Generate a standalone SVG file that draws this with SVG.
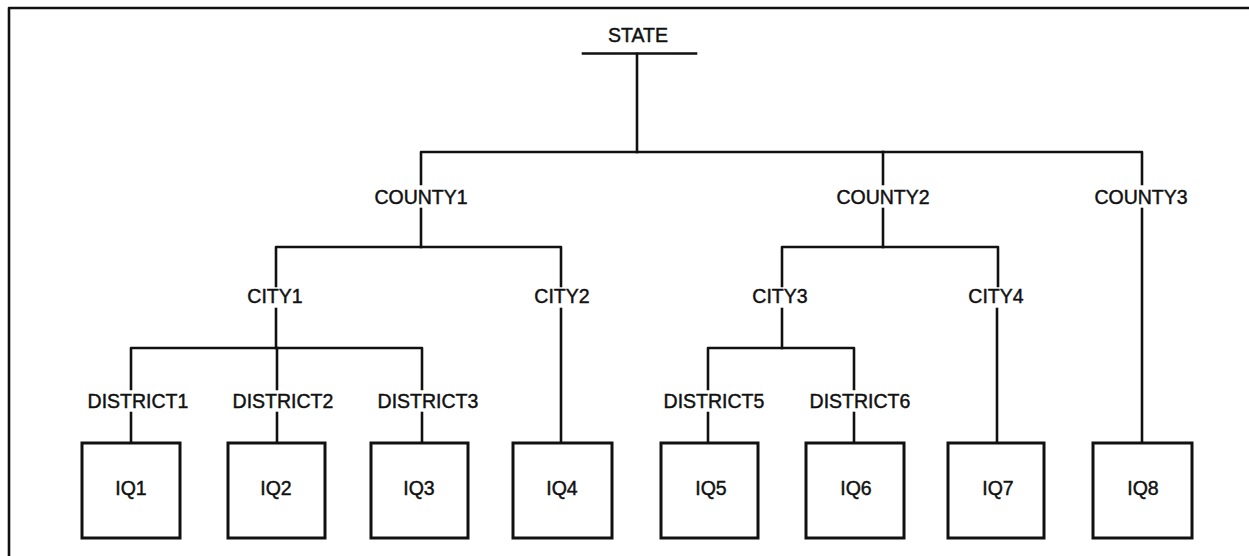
<svg xmlns="http://www.w3.org/2000/svg" width="1249" height="556" viewBox="0 0 1249 556">
<style>
.bg{fill:#ffffff}
.ln{fill:none;stroke:#111;stroke-width:2.6;stroke-linejoin:round;stroke-linecap:square}
.box{fill:#ffffff;stroke:#111;stroke-width:3}
.t{font-family:"Liberation Sans",Arial,sans-serif;font-size:19.5px;fill:#111;stroke:#111;stroke-width:0.45;text-anchor:middle}
</style>
<rect class="bg" x="0" y="0" width="1249" height="556"/>
<g id="frame">
<path class="ln" d="M9,556 V8 H1249"/>
</g>
<g id="connectors">
<path class="ln" d="M583,53.5 H696"/>
<path class="ln" d="M637,54 V152"/>
<path class="ln" d="M421,184 V152 H1142 V184"/>
<path class="ln" d="M883,152 V184"/>
<path class="ln" d="M421,209 V247"/>
<path class="ln" d="M883,209 V247"/>
<path class="ln" d="M1142,209 V443"/>
<path class="ln" d="M276,286 V247 H561 V286"/>
<path class="ln" d="M782,286 V247 H998 V286"/>
<path class="ln" d="M276,309 V348"/>
<path class="ln" d="M561,309 V443"/>
<path class="ln" d="M782,309 V348"/>
<path class="ln" d="M997,309 V443"/>
<path class="ln" d="M131,389 V348 H422 V389"/>
<path class="ln" d="M277,348 V389"/>
<path class="ln" d="M708,389 V348 H854 V389"/>
<path class="ln" d="M131,413 V443"/>
<path class="ln" d="M277,413 V443"/>
<path class="ln" d="M422,413 V443"/>
<path class="ln" d="M708,413 V443"/>
<path class="ln" d="M854,413 V443"/>
</g>
<g id="state"><text class="t" x="638" y="41.5">STATE</text></g>
<g id="county1"><text class="t" x="421" y="204">COUNTY1</text></g>
<g id="county2"><text class="t" x="883" y="204">COUNTY2</text></g>
<g id="county3"><text class="t" x="1141" y="204">COUNTY3</text></g>
<g id="city1"><text class="t" x="275" y="303">CITY1</text></g>
<g id="city2"><text class="t" x="562" y="303">CITY2</text></g>
<g id="city3"><text class="t" x="780" y="303">CITY3</text></g>
<g id="city4"><text class="t" x="996" y="303">CITY4</text></g>
<g id="district1"><text class="t" x="138" y="408">DISTRICT1</text></g>
<g id="district2"><text class="t" x="283" y="408">DISTRICT2</text></g>
<g id="district3"><text class="t" x="428" y="408">DISTRICT3</text></g>
<g id="district5"><text class="t" x="714" y="408">DISTRICT5</text></g>
<g id="district6"><text class="t" x="860" y="408">DISTRICT6</text></g>
<g id="iq1"><rect class="box" x="82" y="443" width="98" height="95"/><text class="t" x="131" y="495">IQ1</text></g>
<g id="iq2"><rect class="box" x="228" y="443" width="97" height="95"/><text class="t" x="276" y="495">IQ2</text></g>
<g id="iq3"><rect class="box" x="371" y="443" width="97" height="95"/><text class="t" x="419" y="495">IQ3</text></g>
<g id="iq4"><rect class="box" x="513" y="443" width="99" height="95"/><text class="t" x="562" y="495">IQ4</text></g>
<g id="iq5"><rect class="box" x="661" y="443" width="97" height="95"/><text class="t" x="711" y="495">IQ5</text></g>
<g id="iq6"><rect class="box" x="806" y="443" width="98" height="95"/><text class="t" x="856" y="495">IQ6</text></g>
<g id="iq7"><rect class="box" x="948" y="443" width="96" height="95"/><text class="t" x="998" y="495">IQ7</text></g>
<g id="iq8"><rect class="box" x="1093" y="443" width="99" height="95"/><text class="t" x="1143" y="495">IQ8</text></g>
</svg>
